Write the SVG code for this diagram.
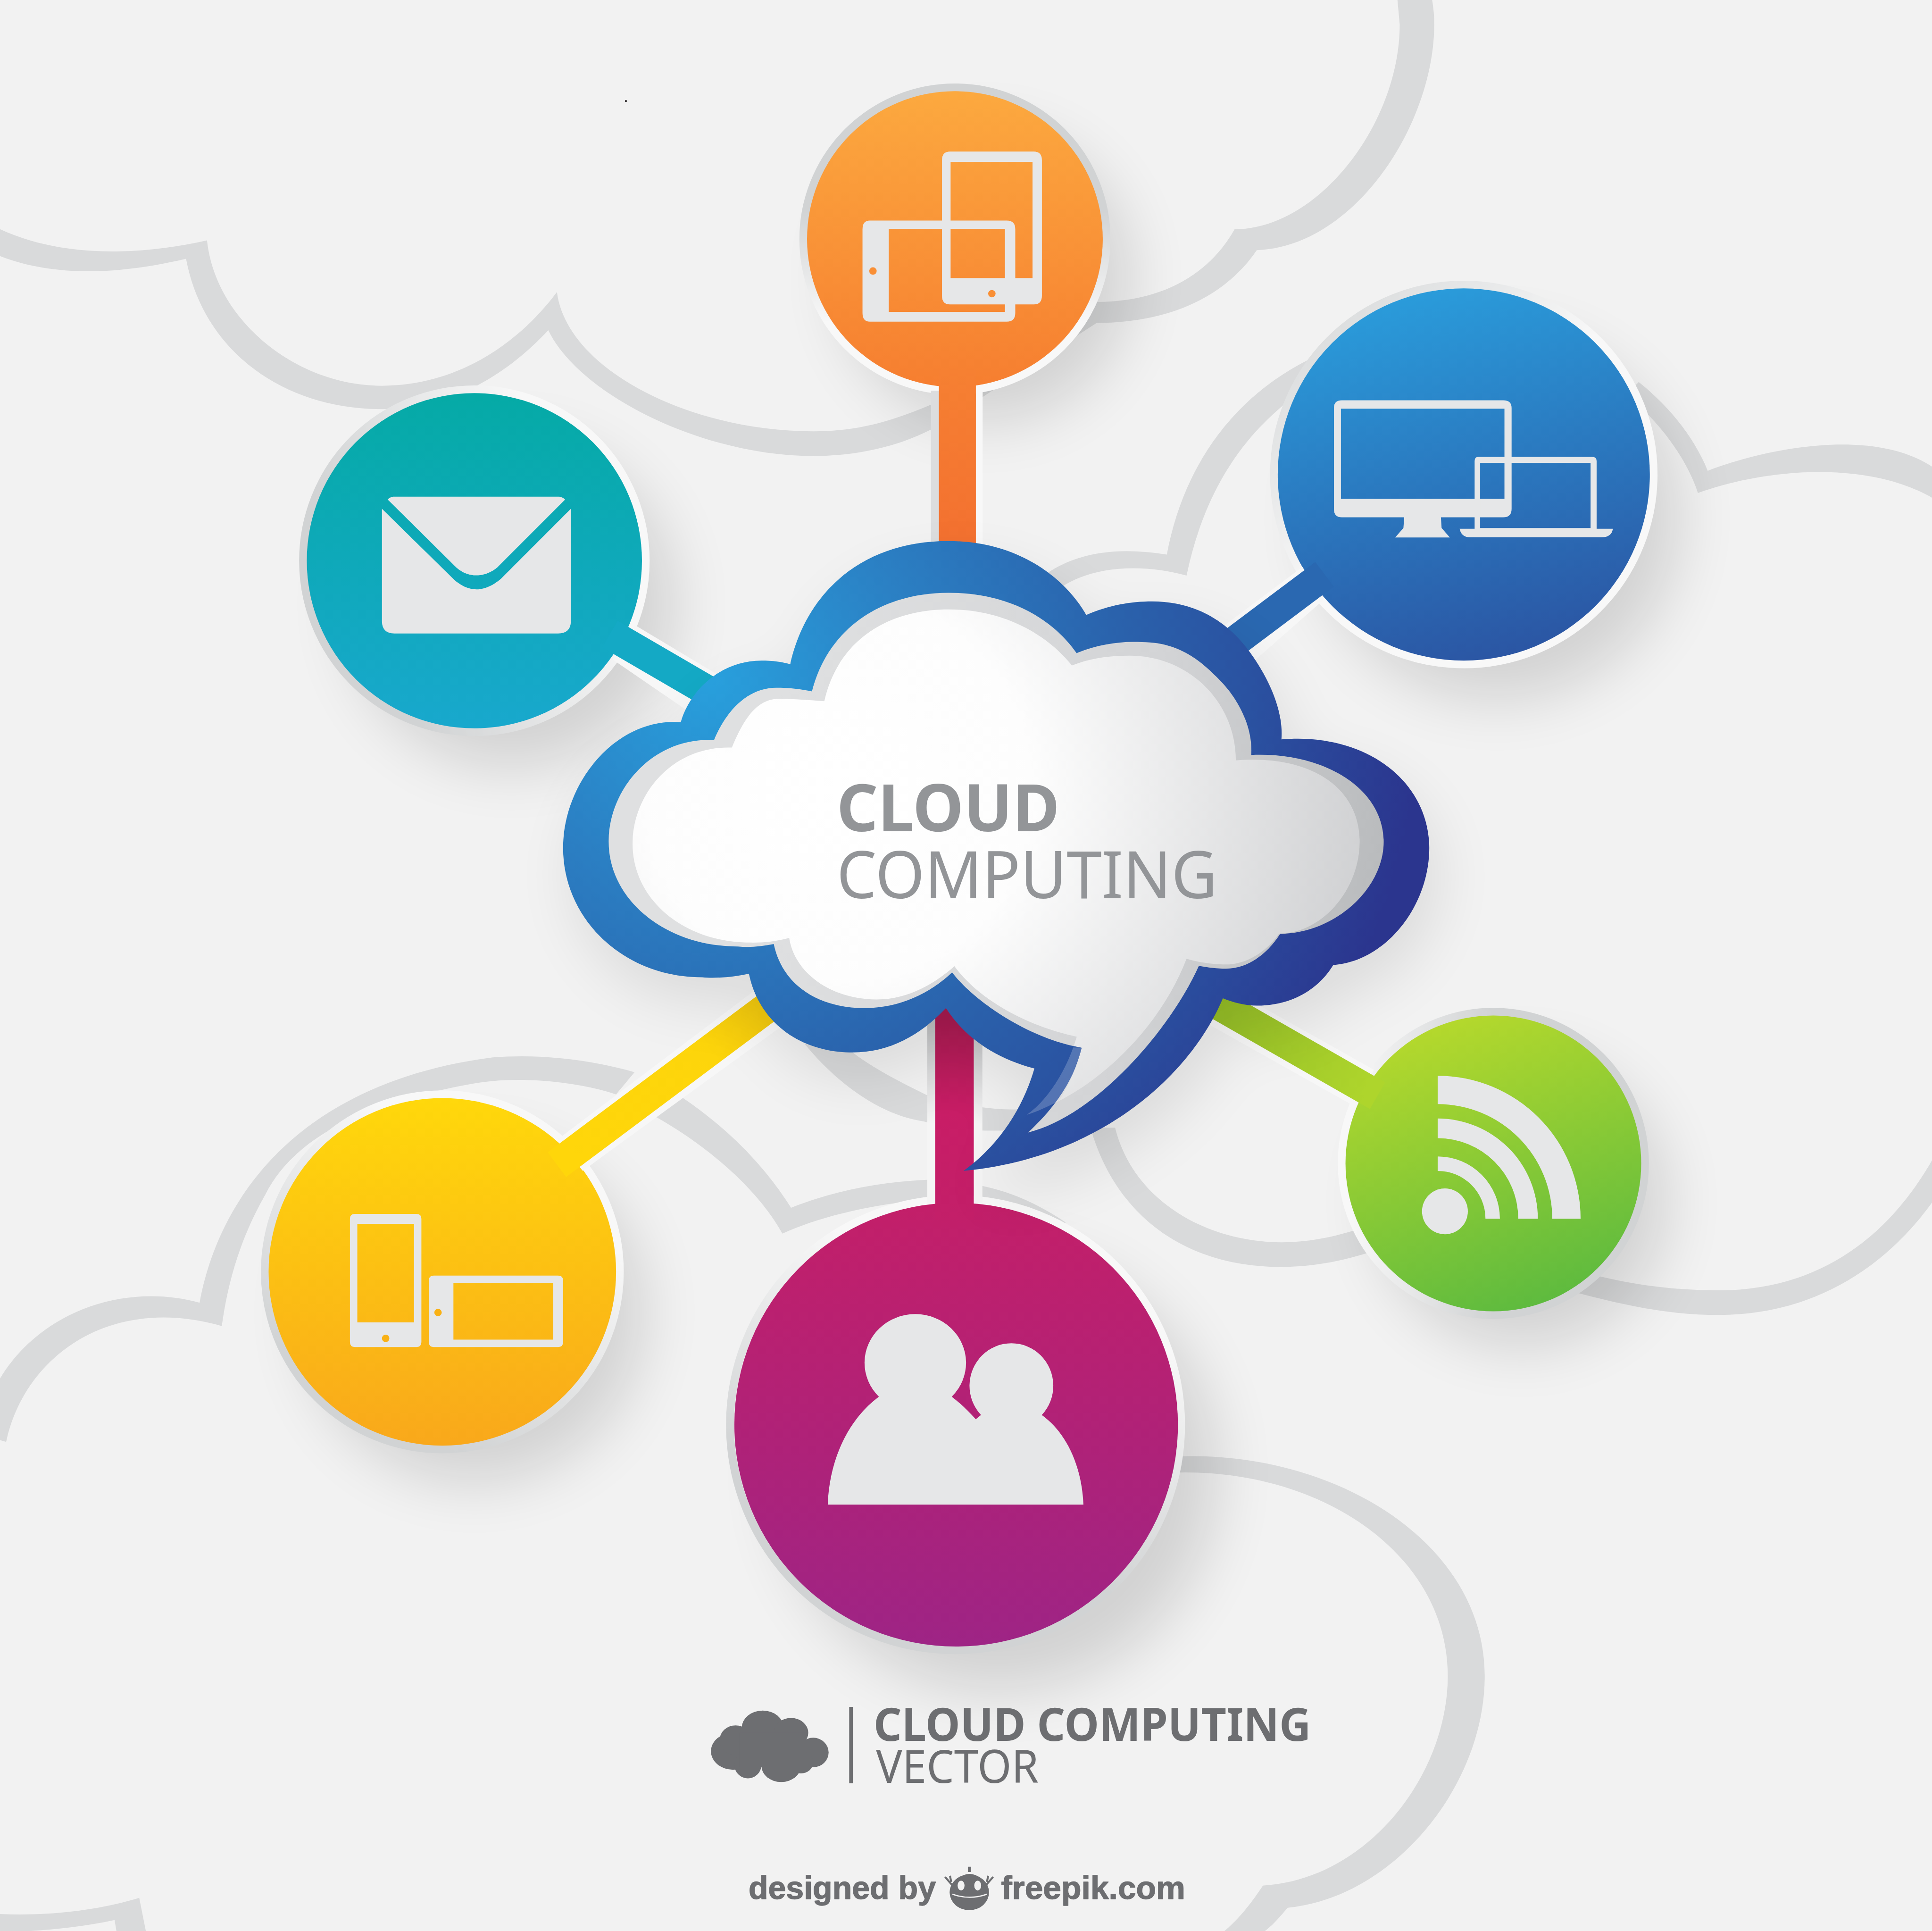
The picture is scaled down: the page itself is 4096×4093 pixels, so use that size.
<svg xmlns="http://www.w3.org/2000/svg" width="4096" height="4093" viewBox="0 0 4096 4093">
<defs>
<style>
.bg{fill:#d9dadb}
.ic{fill:#e6e7e8}
.eo{fill:#e6e7e8;fill-rule:evenodd}
.ring{fill:none;stroke-width:6.5}
.sh{fill:#000;opacity:.13;filter:url(#blur)}
.b{fill:#f7f7f7}
.t1{font-family:"Noto Sans","Open Sans","Liberation Sans",sans-serif;fill:#939598;font-size:53px}
.t2{font-family:"Noto Sans","Open Sans","Liberation Sans",sans-serif;fill:#6d6e71;font-size:37px}
.t3{font-family:"Liberation Sans",Arial,sans-serif;font-weight:700;fill:#6d6e71;font-size:26px;stroke:#6d6e71;stroke-width:.5;stroke-linejoin:round}
</style>
<filter id="blur" x="-40%" y="-40%" width="180%" height="180%"><feGaussianBlur stdDeviation="24"/></filter>
<linearGradient id="gO" gradientUnits="userSpaceOnUse" x1="775" y1="74" x2="775" y2="314"><stop offset="0" stop-color="#fca93f"/><stop offset="1" stop-color="#f67e30"/></linearGradient>
<linearGradient id="gB" gradientUnits="userSpaceOnUse" x1="1150" y1="235" x2="1226" y2="535"><stop offset="0" stop-color="#2a9cdb"/><stop offset="1" stop-color="#2b55a3"/></linearGradient>
<linearGradient id="gT" gradientUnits="userSpaceOnUse" x1="385" y1="319" x2="385" y2="591"><stop offset="0" stop-color="#05aaa6"/><stop offset="1" stop-color="#18a8cd"/></linearGradient>
<linearGradient id="gY" gradientUnits="userSpaceOnUse" x1="359" y1="891" x2="359" y2="1173"><stop offset="0" stop-color="#ffd80b"/><stop offset="1" stop-color="#f9a81b"/></linearGradient>
<linearGradient id="gG" gradientUnits="userSpaceOnUse" x1="1170" y1="825" x2="1255" y2="1063"><stop offset="0" stop-color="#b6d92c"/><stop offset="1" stop-color="#5cba3f"/></linearGradient>
<linearGradient id="gP" gradientUnits="userSpaceOnUse" x1="776" y1="976" x2="776" y2="1336"><stop offset="0" stop-color="#c31f69"/><stop offset="1" stop-color="#9e2485"/></linearGradient>
<linearGradient id="rO" gradientUnits="userSpaceOnUse" x1="775" y1="170" x2="775" y2="262"><stop offset="0" stop-color="#d1d3d4"/><stop offset="1" stop-color="#f8f8f8"/></linearGradient>
<linearGradient id="rB" gradientUnits="userSpaceOnUse" x1="1060" y1="250" x2="1180" y2="380"><stop offset="0" stop-color="#d8dadb"/><stop offset="1" stop-color="#f8f8f8"/></linearGradient>
<linearGradient id="rT" gradientUnits="userSpaceOnUse" x1="300" y1="500" x2="470" y2="420"><stop offset="0" stop-color="#d1d3d4"/><stop offset="1" stop-color="#f8f8f8"/></linearGradient>
<linearGradient id="rY" gradientUnits="userSpaceOnUse" x1="290" y1="1130" x2="400" y2="950"><stop offset="0" stop-color="#d1d3d4"/><stop offset="1" stop-color="#f8f8f8"/></linearGradient>
<linearGradient id="rG" gradientUnits="userSpaceOnUse" x1="1210" y1="944" x2="1095" y2="944"><stop offset="0" stop-color="#d1d3d4"/><stop offset="1" stop-color="#f8f8f8"/></linearGradient>
<linearGradient id="rP" gradientUnits="userSpaceOnUse" x1="730" y1="1230" x2="800" y2="1040"><stop offset="0" stop-color="#d1d3d4"/><stop offset="1" stop-color="#f8f8f8"/></linearGradient>
<linearGradient id="bO" gradientUnits="userSpaceOnUse" x1="777" y1="300" x2="777" y2="445"><stop offset="0" stop-color="#f68032"/><stop offset="1" stop-color="#f37030"/></linearGradient>
<linearGradient id="bY" gradientUnits="userSpaceOnUse" x1="460" y1="935" x2="625" y2="815"><stop offset="0" stop-color="#ffd60a"/><stop offset=".7" stop-color="#fdd50b"/><stop offset="1" stop-color="#efc60e"/></linearGradient>
<linearGradient id="bG" gradientUnits="userSpaceOnUse" x1="1110" y1="885" x2="985" y2="815"><stop offset="0" stop-color="#aed52c"/><stop offset="1" stop-color="#95be27"/></linearGradient>
<linearGradient id="bP" gradientUnits="userSpaceOnUse" x1="775" y1="825" x2="775" y2="990"><stop offset="0" stop-color="#a81b50"/><stop offset=".48" stop-color="#c81d66"/><stop offset="1" stop-color="#c31f69"/></linearGradient>
<linearGradient id="bS" gradientUnits="userSpaceOnUse" x1="775" y1="830" x2="775" y2="912"><stop offset="0" stop-color="#bebfc1"/><stop offset="1" stop-color="#f5f5f5"/></linearGradient>
<radialGradient id="cOut" gradientUnits="userSpaceOnUse" cx="575" cy="550" r="610"><stop offset="0" stop-color="#28a0dd"/><stop offset=".28" stop-color="#2b7fc3"/><stop offset=".55" stop-color="#2a62ac"/><stop offset=".72" stop-color="#2a52a1"/><stop offset=".95" stop-color="#2b358e"/></radialGradient>
<linearGradient id="cRim" gradientUnits="userSpaceOnUse" x1="620" y1="650" x2="1120" y2="720"><stop offset="0" stop-color="#dfe0e1"/><stop offset=".6" stop-color="#d3d4d6"/><stop offset="1" stop-color="#b9bbbd"/></linearGradient>
<radialGradient id="cIn" gradientUnits="userSpaceOnUse" cx="680" cy="640" r="450"><stop offset="0" stop-color="#ffffff"/><stop offset=".35" stop-color="#fdfdfd"/><stop offset="1" stop-color="#cdced0"/></radialGradient>
<path id="cloudOuter" d="M641.5,538 C655,480 700,439 770,439 C822,439 862,465 881.6,499 C900,491 918,488 935,488 C965,488 992,500 1012,526 C1028,547 1042,575 1040,600 C1110,594 1160,635 1160,688 C1160,735 1125,780 1082,783 C1070,803 1048,816 1020,816 C1010,816 1000,813 992.5,810 C965,875 890,940 782,950 C810,930 830,900 839.5,867 C805,858 782,840 767.7,818 C747,840 722,854 692,854 C650,854 616,830 607.8,790 C595,793 580,794 570,793 C505,793 457,745 457,688 C457,635 500,582 552.5,586 C560,560 585,536 618,536 C627,536 635,537 641.5,539 Z"/>
</defs>
<g transform="scale(2.61224)">
<rect x="0" y="0" width="1568" height="1567" fill="#f2f2f2"/>
<g id="background-clouds">
<path class="bg" d="M-2,185 C50,210 115,207 168,195 C175,260 240,313 310,313 C370,313 420,280 452,237 C460,300 560,350 660,350 C700,350 730,340 770,322 L890,245 C940,245 980,225 1002,186 C1070,186 1136,100 1136,20 L1134,-2 L1162,-2 C1164,10 1164,15 1164,20 C1164,100 1100,200 1020,203 C995,240 950,262 890,262 L770,340 C740,360 700,370 660,370 C570,370 470,320 445,268 C415,300 370,332 310,332 C230,332 165,285 151,210 C100,222 45,226 -2,207 Z"/>
<path class="bg" d="M1330,310 C1355,330 1375,355 1386,382 C1430,365 1520,345 1570,380 L1570,405 C1520,375 1440,378 1378,400 C1370,375 1350,345 1320,320 Z"/>
<path class="bg" d="M1070,288 C1000,320 960,380 947,450 C915,445 880,445 850,465 L862,476 C890,458 930,458 963,467 C975,410 1000,360 1050,322 Z"/>
<path class="bg" d="M885,915 C905,985 960,1028 1040,1028 C1060,1028 1085,1025 1115,1015 L1110,995 C1085,1003 1065,1008 1040,1008 C980,1008 920,975 905,915 Z"/>
<path class="bg" d="M1270,1028 C1320,1043 1360,1047 1395,1047 C1470,1047 1530,1010 1570,938 L1570,973 C1530,1030 1470,1067 1395,1067 C1355,1067 1320,1060 1265,1045 Z"/>
<path class="bg" d="M653,847 C680,880 715,905 750,910 C780,918 800,918 830,917 L845,899 C820,902 790,900 753,889 C735,880 710,868 692,854 Z"/>
<path class="bg" d="M-2,1122 C30,1065 100,1040 162,1057 C175,985 230,880 400,858 C440,855 480,860 515,870 L500,888 C470,878 420,872 380,880 C300,895 240,920 215,970 C195,1005 185,1040 180,1076 C90,1050 20,1100 5,1170 L-2,1168 Z"/>
<path class="bg" d="M553,890 C590,915 620,945 642,980 C680,965 720,958 760,957 L760,973 C720,975 670,985 635,1001 C615,965 575,930 530,905 Z"/>
<path class="bg" d="M790,961 C815,965 840,975 865,992 L858,995 C840,985 815,975 790,972 Z"/>
<path class="bg" d="M950,1182 C1080,1175 1205,1250 1205,1360 C1205,1450 1130,1540 1045,1548 C1035,1560 1030,1565 1022,1570 L990,1570 C1005,1558 1015,1545 1025,1530 C1110,1525 1175,1440 1175,1360 C1175,1260 1070,1190 950,1195 Z"/>
<path class="bg" d="M-2,1553 C40,1555 80,1550 113,1540 L119,1570 L95,1570 L93,1558 C60,1565 30,1567 -2,1568 Z"/>
<circle cx="508" cy="82" r=".8" fill="#231f20"/>
</g>
<g id="shadows">
<circle class="sh" cx="800" cy="225" r="118"/>
<circle class="sh" cx="1215" cy="420" r="148"/>
<circle class="sh" cx="415" cy="490" r="133"/>
<circle class="sh" cx="385" cy="1065" r="138"/>
<circle class="sh" cx="1235" cy="975" r="118"/>
<circle class="sh" cx="810" cy="1195" r="178"/>
</g>
<g id="node-orange">
<circle class="ring" cx="775" cy="194" r="123" stroke="url(#rO)"/>
<circle cx="775" cy="194" r="120" fill="url(#gO)"/>
<path class="eo" d="M706,179 H817 Q824,179 824,186 V254 Q824,261 817,261 H706 Q700,261 700,254 V186 Q700,179 706,179 Z M721.3,185.8 V253 H815.6 V185.8 Z"/>
<path class="eo" d="M771,123 H839 Q845.6,123 845.6,130 V240 Q845.6,247 839,247 H771 Q764.5,247 764.5,240 V130 Q764.5,123 771,123 Z M771.5,131.3 V225.7 H838 V131.3 Z"/>
<circle cx="708.5" cy="219.9" r="3" fill="#f98f35"/><circle cx="805" cy="238.3" r="3" fill="#f98f35"/>
</g>
<g id="node-blue">
<circle class="ring" cx="1188" cy="385" r="154" stroke="url(#rB)"/>
<circle cx="1188" cy="385" r="151" fill="url(#gB)"/>
<path class="eo" d="M1089,324.8 H1220 Q1226.8,324.8 1226.8,331 V413 Q1226.8,419.8 1220,419.8 H1089 Q1082.6,419.8 1082.6,413 V331 Q1082.6,324.8 1089,324.8 Z M1088.3,331.6 V404.7 H1221 V331.6 Z"/>
<path class="ic" d="M1139.7,419 H1169.4 L1170,428.5 L1176.7,436.1 H1132.3 L1139,428.5 Z"/>
<path class="eo" d="M1200,370.7 H1292 Q1295.8,370.7 1295.8,374 V430 H1196.8 V374 Q1196.8,370.7 1200,370.7 Z M1201.3,375.6 V428.5 H1290.9 V375.6 Z"/>
<path class="ic" d="M1184.6,429 H1309 Q1308,435.9 1300,435.9 H1193 Q1186,435.9 1184.6,429 Z"/>
</g>
<g id="node-teal">
<circle class="ring" cx="385" cy="455" r="139" stroke="url(#rT)"/>
<circle cx="385" cy="455" r="136" fill="url(#gT)"/>
<path class="ic" d="M310,412.9 L368,469.8 C380,481 393,481 406.4,469.8 L463.3,412.9 V504 Q463.3,514 453,514 H320 Q310,514 310,504 Z"/>
<path class="ic" d="M314.7,405.4 Q316,403.5 319,403 H454 Q457,403.5 458.6,405.4 L403.5,460.5 C393,469 380,469 370.4,460.5 Z"/>
</g>
<g id="node-yellow">
<circle class="ring" cx="359" cy="1032" r="144" stroke="url(#rY)"/>
<circle cx="359" cy="1032" r="141" fill="url(#gY)"/>
<path class="eo" d="M288,985 H338 Q342,985 342,989 V1089 Q342,1093 338,1093 H288 Q284,1093 284,1089 V989 Q284,985 288,985 Z M290,993 V1073 H336 V993 Z"/>
<path class="eo" d="M352,1035 H453 Q457,1035 457,1039 V1089 Q457,1093 453,1093 H352 Q348,1093 348,1089 V1039 Q348,1035 352,1035 Z M368,1041 V1087 H449 V1041 Z"/>
<circle cx="313" cy="1086" r="3" fill="#f9b115"/><circle cx="355.5" cy="1065" r="3" fill="#f9b115"/>
</g>
<g id="node-green">
<circle class="ring" cx="1212" cy="944" r="123" stroke="url(#rG)"/>
<circle cx="1212" cy="944" r="120" fill="url(#gG)"/>
<path class="ic" d="M1166.8,872.9 A116,116 0 0 1 1282.8,988.9 H1259.8 A93,93 0 0 0 1166.8,895.9 Z"/>
<path class="ic" d="M1166.8,907.6 A81.3,81.3 0 0 1 1248.1,988.9 H1232.2 A65.4,65.4 0 0 0 1166.8,923.5 Z"/>
<path class="ic" d="M1166.8,938.4 A50.5,50.5 0 0 1 1217.3,988.9 H1205.6 A38.8,38.8 0 0 0 1166.8,950.1 Z"/>
<circle class="ic" cx="1172.7" cy="982.9" r="18.6"/>
</g>
<g id="node-purple">
<circle class="ring" cx="775.5" cy="1156" r="183" stroke="url(#rP)"/>
<circle cx="776" cy="1156" r="180" fill="url(#gP)"/>
<path class="ic" d="M671.8,1220.9 C673,1185 688,1152 713.3,1133.3 A41.2,39.5 0 1 1 772.4,1133.3 C780,1139 787,1146 791.9,1151.6 L796.2,1148.2 A34,34.5 0 1 1 845.5,1148.2 C866,1163 878,1190 879.3,1220.9 Z"/>
</g>
<g id="connectors">
<rect x="755.5" y="317" width="6.5" height="128" fill="#dcddde"/>
<rect x="792" y="317" width="5.5" height="128" fill="#f8f8f8"/>
<rect x="762" y="300" width="30" height="145" fill="url(#bO)"/>
<polygon class="b" points="515,507 590,552 570,585 497,535"/>
<line x1="495" y1="514.5" x2="580" y2="564" stroke="#14a9c5" stroke-width="25"/>
<polygon class="b" points="1057,460 985,514 1008,545 1075,486"/>
<line x1="1075" y1="466" x2="995" y2="526" stroke="#2a68b1" stroke-width="25"/>
<polygon class="b" points="452,925 612,804 634,833 473,950"/>
<line x1="452" y1="945" x2="630" y2="812" stroke="url(#bY)" stroke-width="25"/>
<polygon class="b" points="1115,868 985,795 970,825 1100,898"/>
<line x1="1118" y1="889" x2="980" y2="810" stroke="url(#bG)" stroke-width="25"/>
<rect x="752.6" y="810" width="6.5" height="166" fill="url(#bS)"/>
<rect x="790.3" y="810" width="7" height="166" fill="url(#bS)"/>
<rect x="759" y="810" width="31.3" height="180" fill="url(#bP)"/>
</g>
<g id="central-cloud">
<use href="#cloudOuter" transform="translate(8,22)" fill="#000" opacity=".09" filter="url(#blur)"/>
<use href="#cloudOuter" fill="url(#cOut)"/>
<path d="M659,561 C672,510 715,481 770,481 C820,481 855,503 873.8,530 C890,523 910,520 926.6,521 C950,521 968,530 985,547 C1005,565 1017,590 1015.5,612.6 C1075,610 1123,640 1123,683 C1123,720 1085,757 1039,757.7 C1028,775 1012,786 995,786 C988,786 980,785 973,783.7 C950,835 890,905 834.5,918.9 C858,897 872,875 878,850.1 C835,843 790,812 772.7,789 C755,806 730,818 701.7,818 C665,818 635,800 628,766 C618,768 608,769 599,768 C540,768 494,730 494,683 C494,640 530,598 579.5,600.5 C590,575 608,558 630,558 C640,558 650,559 659,561 Z" fill="url(#cRim)"/>
<path d="M669,569 C680,520 720,494.5 770,494.5 C815,494.5 850,515 870,540 C885,534 900,532 916.8,532 C965,532 1003,570 1003,617 C1065,612 1103.5,640 1103.5,683 C1103.5,720 1075,757 1038,757.7 C1028,772 1012,782.6 995,782.6 C985,782.6 973,781 963,778 C945,825 905,870 859.4,893.4 C868,880 874,865 878,850.1 L871.5,848.7 L873.9,841.2 C835,833 795,812 774.6,784 C760,797 738,811 711.5,811 C675,811 645,790 640.5,761 C630,764 618,765 608.7,764.8 C555,764.8 513.4,730 513.4,684.8 C513.4,645 545,605 594,606.6 C604,582 615,567 632,567 C645,567 657,568 669,569 Z" fill="url(#cIn)"/>
<path d="M878,850.1 C874,865 868,880 859.4,893.4 C850,898 842,902 833.3,904.6 C850,893 864,870 871,849.9 Z" fill="#fff" opacity=".2"/>
<text class="t1" x="679" y="674.5" font-weight="700" textLength="181" lengthAdjust="spacingAndGlyphs">CLOUD</text>
<text class="t1" x="679" y="729" font-weight="400" textLength="309" lengthAdjust="spacingAndGlyphs">COMPUTING</text>
</g>
<g id="title">
<g fill="#6d6e71">
<ellipse cx="595" cy="1421" rx="18" ry="15"/><ellipse cx="619" cy="1402" rx="17" ry="14"/><ellipse cx="642" cy="1406" rx="14" ry="12"/><ellipse cx="597" cy="1412" rx="13" ry="12"/><ellipse cx="660" cy="1422" rx="12.5" ry="12"/><ellipse cx="607" cy="1432" rx="11" ry="11"/><ellipse cx="634" cy="1433" rx="16" ry="13"/><ellipse cx="650" cy="1430" rx="10" ry="9"/><rect x="600" y="1406" width="54" height="28"/>
</g>
<rect x="689.2" y="1385" width="3" height="62" fill="#6d6e71"/>
<text class="t2" x="709" y="1412.5" font-weight="700" textLength="355" lengthAdjust="spacingAndGlyphs">CLOUD COMPUTING</text>
<text class="t2" x="711" y="1446.6" font-weight="400" textLength="132" lengthAdjust="spacingAndGlyphs">VECTOR</text>
</g>
<g id="credit">
<text class="t3" x="607.5" y="1541" textLength="152" lengthAdjust="spacingAndGlyphs">designed by</text>
<text class="t3" x="812.5" y="1541" textLength="149.5" lengthAdjust="spacingAndGlyphs">freepik.com</text>
<ellipse cx="786.7" cy="1535.5" rx="16" ry="14.5" fill="#6d6e71"/>
<path d="M778,1524 Q786.7,1517 796,1524 L796,1530 H778 Z" fill="#6d6e71"/>
<path d="M785.5,1519 V1514.7 h2.5 V1519 Z" fill="#6d6e71"/>
<path d="M767,1523 L774,1531 M771,1522 L772,1527 M806,1523 L799,1531 M802,1522 L801,1527" stroke="#6d6e71" stroke-width="1.6" fill="none"/>
<ellipse cx="780" cy="1530" rx="2.8" ry="4" fill="#f2f2f2"/><ellipse cx="793.5" cy="1530" rx="2.8" ry="4" fill="#f2f2f2"/>
<path d="M773,1537 Q787,1542 801,1537" stroke="#f2f2f2" stroke-width="1" fill="none"/>
</g>
</g>
</svg>
